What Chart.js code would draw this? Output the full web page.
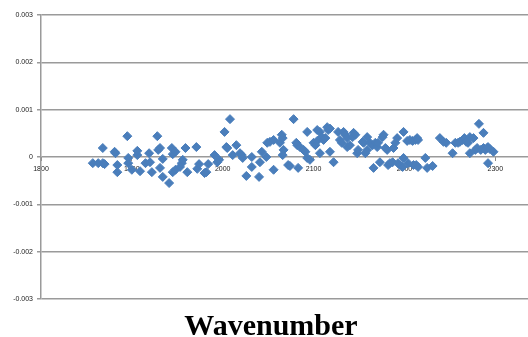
<!DOCTYPE html>
<html>
<head>
<meta charset="utf-8">
<script src="https://cdn.jsdelivr.net/npm/chart.js@4"></script>
<style>
  html, body { margin: 0; padding: 0; background: #fff; overflow: hidden; }
  #wrap { position: relative; width: 528px; height: 337px; }
  #title { position: absolute; left: 71px; width: 400px; top: 310px; text-align: center;
           font-family: "Liberation Serif", "Times New Roman", serif; font-weight: bold;
           font-size: 30px; line-height: 30px; color: #000; }
</style>
</head>
<body>
<div id="wrap">
  <canvas id="c" width="528" height="337"></canvas>
  <div id="title">Wavenumber</div>
</div>
<script>
const wavenumber = [
  1857,1863,1868,1870,1868,1881,1882,1884,1884,1895,1896,1896,1900,1906,1906,1909,1915,1919,1920,1922,
  1928,1929,1931,1931,1934,1934,1941,1944,1945,1948,1945,1948,1953,1955,1956,1959,1961,1971,1972,1974,
  1980,1982,1984,1991,1994,1996,2002,2004,2005,2008,2011,2015,2019,2021,2022,2026,2032,2032,2040,2041,
  2043,2048,2049,2052,2056,2056,2063,2065,2066,2067,2066,2072,2074,2078,2081,2082,2083,2085,2089,2091,
  2093,2093,2096,2100,2102,2104,2104,2107,2107,2109,2111,2113,2115,2116,2118,2118,2122,2127,2133,2129,
  2131,2135,2137,2137,2140,2143,2144,2146,2148,2149,2154,2155,2157,2159,2159,2162,2165,2166,2168,2170,
  2171,2173,2176,2177,2179,2181,2182,2184,2187,2188,2190,2192,2193,2195,2198,2199,2199,2203,2206,2209,
  2212,2214,2215,2204,2210,2213,2215,2223,2225,2231,2239,2243,2246,2253,2256,2259,2261,2264,2266,2268,
  2270,2272,2276,2272,2278,2280,2282,2284,2287,2287,2289,2291,2292,2292,2294,2298
];
const residual = [
  -0.00013,-0.00013,-0.00013,-0.00015,0.00019,0.00011,0.00008,-0.00017,-0.00032,0.00044,-0.00002,-0.00013,-0.00027,0.00004,0.00013,-0.0003,-0.00013,0.00008,-0.00011,-0.00032,
  0.00044,0.00015,0.00019,-0.00023,-0.00004,-0.00042,-0.00055,0.00019,0.00006,0.00011,-0.00032,-0.00027,-0.00021,-0.00013,-0.00006,0.00019,-0.00032,0.00021,-0.00025,-0.00015,
  -0.00034,-0.00032,-0.00015,0.00004,-0.00011,-0.00006,0.00053,0.00021,0.00019,0.0008,0.00004,0.00025,0.00008,0.00004,-0.00002,-0.0004,-0.00021,0,-0.00042,-0.00011,
  0.00011,0,0.0003,0.00032,0.00036,-0.00027,0.0003,0.00047,0.0004,0.00015,0.00004,-0.00017,-0.00019,0.0008,0.0003,0.00025,-0.00023,0.00021,0.00015,0.00011,
  0.00053,-0.00002,-0.00006,0.0003,0.00025,0.00034,0.00057,0.00053,0.00008,0.00042,0.00036,0.0004,0.00063,0.00057,0.0006,0.00011,-0.00011,0.00053,0.00053,0.00036,
  0.0003,0.00047,0.0004,0.00021,0.00025,0.00042,0.00051,0.00047,0.00008,0.00015,0.00032,0.0003,0.00008,0.00015,0.00042,0.0003,0.00025,-0.00023,0.0003,0.00021,
  0.0003,-0.00011,0.00042,0.00047,0.00019,0.00015,-0.00017,-0.00013,-0.00011,0.00019,0.0003,0.0004,-0.00013,-0.00017,-0.00021,-0.00002,0.00053,0.00034,0.00036,0.00034,
  0.00036,0.0004,0.00036,-0.00013,-0.00017,-0.00017,-0.00021,-0.00002,-0.00023,-0.00019,0.0004,0.00032,0.0003,0.00008,0.0003,0.0003,0.00032,0.00036,0.0004,0.00032,
  0.0003,0.00042,0.0004,0.00008,0.00015,0.00019,0.0007,0.00015,0.00051,0.00019,0.00015,0.00019,0.00021,-0.00013,0.00017,0.00011
];
const yTicks = [-0.003, -0.002, -0.001, 0, 0.001, 0.002, 0.003];
const xTicks = [1800, 1900, 2000, 2100, 2200, 2300];

const points = wavenumber.map((w, i) => ({ x: w, y: residual[i] }));

new Chart(document.getElementById('c'), {
  type: 'scatter',
  data: {
    datasets: [{
      data: points,
      pointStyle: 'rectRot',
      pointRadius: 4.5,
      pointHoverRadius: 4.5,
      backgroundColor: '#4A7EBB',
      borderColor: '#4A7EBB',
      borderWidth: 1
    }]
  },
  options: {
    responsive: false,
    animation: false,
    events: [],
    layout: { autoPadding: false, padding: { top: 15, right: 0, bottom: 38, left: 0 } },
    plugins: { legend: { display: false }, tooltip: { enabled: false } },
    scales: {
      x: {
        type: 'linear',
        position: { y: 0 },
        min: 1800,
        max: 2336,
        afterBuildTicks: (s) => { s.ticks = xTicks.map(v => ({ value: v })); },
        afterFit: (s) => { s.paddingLeft = 0; s.paddingRight = 0; },
        grid: { display: true, drawOnChartArea: false, drawTicks: true, tickLength: 4, color: '#8c8c8c', lineWidth: 1 },
        border: { display: false },
        ticks: {
          padding: 4,
          maxRotation: 0,
          autoSkip: false,
          font: { family: 'Liberation Sans', size: 7 },
          color: '#222',
          callback: (v) => String(v)
        }
      },
      y: {
        min: -0.003,
        max: 0.003,
        afterBuildTicks: (s) => { s.ticks = yTicks.map(v => ({ value: v })); },
        afterFit: (s) => { s.width = 41; s.paddingTop = 0; s.paddingBottom = 0; },
        grid: { color: '#9a9a9a', lineWidth: 1.5, tickLength: 4 },
        border: { display: true, color: '#9a9a9a', width: 1.5 },
        ticks: {
          padding: 4,
          font: { family: 'Liberation Sans', size: 7 },
          color: '#222',
          callback: (v) => String(v)
        }
      }
    }
  }
});
</script>
</body>
</html>
